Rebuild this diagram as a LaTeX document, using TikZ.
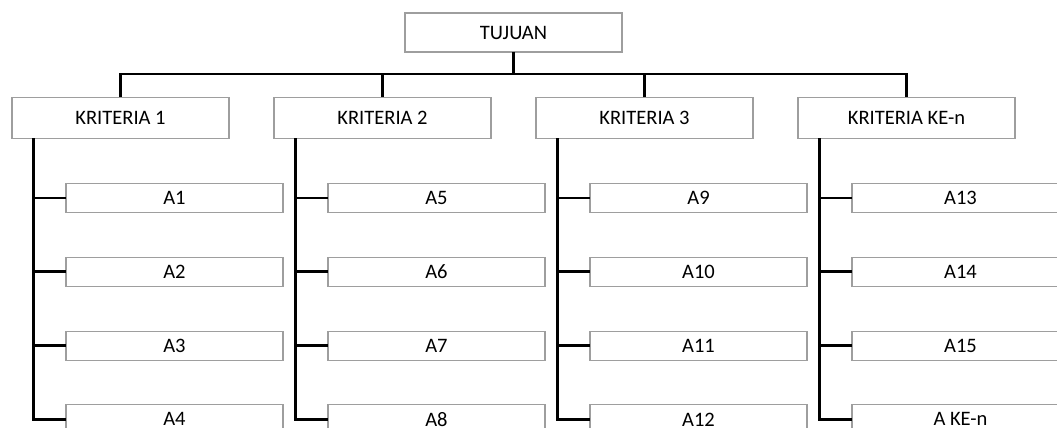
\documentclass[tikz,border=0pt]{standalone}
\usepackage{fontspec}
\setmainfont{Carlito}
\usetikzlibrary{calc}
\begin{document}
\begin{tikzpicture}[x=0.75pt,y=-0.75pt,
  box/.style={draw=black!38,line width=0.8pt,fill=white,inner sep=0pt,outer sep=0pt,
    minimum width=162.75pt,font=\fontsize{15.4}{18}\selectfont},
  topbox/.style={box,minimum height=29.25pt},
  critbox/.style={box,minimum height=31pt},
  altbox/.style={box,minimum height=21.75pt},
  link/.style={draw=black,line width=2pt}]
\useasboundingbox (0,0) rectangle (1057,428);
\node[topbox] (T) at (513.5,32.5) {TUJUAN};
\node[critbox] (K1) at (120.5,117.75) {KRITERIA 1};
\node[critbox] (K2) at (382.5,117.75) {KRITERIA 2};
\node[critbox] (K3) at (644.5,117.75) {KRITERIA 3};
\node[critbox] (K4) at (906.5,117.75) {KRITERIA KE-n};
\coordinate (bus) at (513.5,74);
\draw[link] (T.south) -- (bus);
\draw[link] (K1.north) |- (bus) -| (K4.north);
\draw[link] (K2.north) -- (K2.north |- bus);
\draw[link] (K3.north) -- (K3.north |- bus);
% alternatives
\foreach \k/\x/\a/\b/\c/\d in {1/174.5/A1/A2/A3/A4, 2/436.5/A5/A6/A7/A8, 3/698.5/A9/A10/A11/A12, 4/960.5/A13/A14/A15/A KE-n}{
  \node[altbox] (B\k1) at (\x,198) {\a};
  \node[altbox] (B\k2) at (\x,271.8) {\b};
  \node[altbox] (B\k3) at (\x,345.6) {\c};
  \node[altbox] (B\k4) at (\x,419.4) {\d};
  \coordinate (v\k) at ($(K\k.south west)+(21.5,0)$);
  \draw[link] (v\k) |- (B\k4.west);
  \draw[link] (v\k |- B\k1.west) -- (B\k1.west);
  \draw[link] (v\k |- B\k2.west) -- (B\k2.west);
  \draw[link] (v\k |- B\k3.west) -- (B\k3.west);
}
\end{tikzpicture}
\end{document}
